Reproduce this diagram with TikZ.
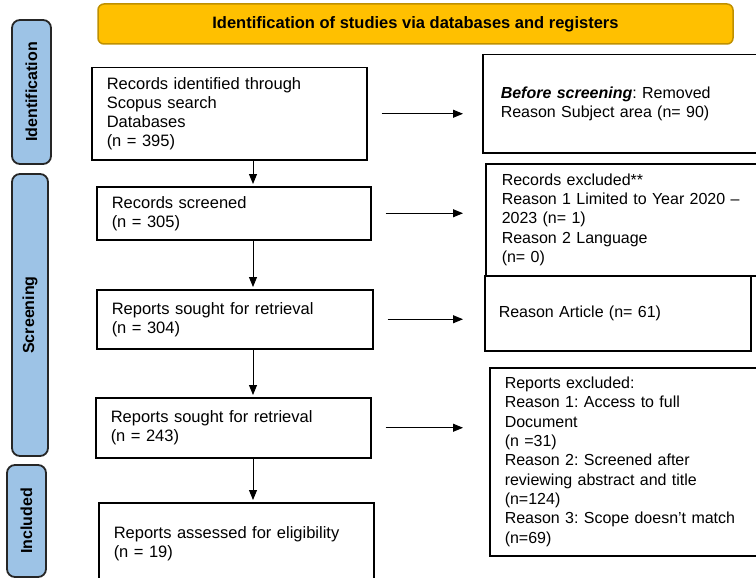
\documentclass[tikz,border=0pt]{standalone}
\usepackage{fontspec}
\setmainfont{Liberation Sans}
\usetikzlibrary{arrows.meta}
\definecolor{barblue}{HTML}{9DC3E6}
\definecolor{titlegold}{HTML}{FFC000}
\definecolor{titleedge}{HTML}{BF9000}
\frenchspacing
\begin{document}
\begin{tikzpicture}[x=1pt,y=-1pt]
			\tikzstyle{box}=[draw, line width=1.5pt, anchor=north west, align=left, inner xsep=15pt, inner ysep=0pt, font=\fontsize{16.5}{19}\selectfont]
			\tikzstyle{rbox}=[box, font=\fontsize{16}{19.3}\selectfont]
			\tikzstyle{bar}=[draw=black!85, line width=1.8pt, fill=barblue, rounded corners=8pt, rotate=90, inner sep=0pt, font=\fontsize{16}{19}\selectfont\bfseries]
			\tikzstyle{arr}=[-{Triangle[length=10pt,width=8pt]}, line width=1pt]
			\useasboundingbox (0,0) rectangle (756,578);
			
			\node[draw=titleedge, line width=1.5pt, fill=titlegold, rounded corners=6pt, minimum width=635pt, minimum height=40pt, font=\fontsize{16.5}{19}\selectfont\bfseries] (title) at (415.5,24) {Identification of studies via databases and registers};
			
			\node[bar, minimum width=144pt, minimum height=39pt] (idbar) at (31.5,92) {Identification};
			\node[bar, minimum width=282pt, minimum height=36pt] (scbar) at (30,315) {Screening};
			\node[bar, minimum width=112pt, minimum height=39pt] (inbar) at (26.5,521) {Included};
			
			\node[box, text width=245pt, minimum height=92pt] (ident) at (91,67) {Records identified through\\Scopus search\\Databases\\(n = 395)};
			\node[box, text width=244pt, minimum height=53pt] (screen) at (96,186) {Records screened\\(n = 305)};
			\node[box, text width=246pt, minimum height=59pt] (sought) at (96,289) {Reports sought for retrieval\\(n = 304)};
			\node[box, text width=245pt, minimum height=60pt] (retr) at (95,397) {Reports sought for retrieval\\(n = 243)};
			\node[box, text width=245pt, minimum height=82pt] (assess) at (98,502) {Reports assessed for eligibility\\(n = 19)};
			
			\node[rbox, text width=270pt, minimum height=98pt, inner xsep=18pt] (before) at (482,54) {\textbf{\textit{Before screening}}: Removed\\Reason Subject area (n= 90)};
			\node[rbox, text width=270pt, minimum height=112pt, inner xsep=16pt] (excl) at (485,163) {Records excluded**\\Reason 1 Limited to Year 2020 –\\2023 (n= 1)\\Reason 2 Language\\(n= 0)};
			\node[rbox, text width=238pt, minimum height=75pt, inner xsep=14pt] (article) at (484,275) {Reason Article (n= 61)};
			\node[rbox, text width=270pt, minimum height=188pt] (repexcl) at (489,367) {Reports excluded:\\Reason 1: Access to full\\Document\\(n =31)\\Reason 2: Screened after\\reviewing abstract and title\\(n=124)\\Reason 3: Scope doesn’t match\\(n=69)};
			
			\coordinate (vx) at (253,0);
			\coordinate (hx) at (463,0);
			\foreach \a/\b in {ident/screen, screen/sought, sought/retr, retr/assess}
				\draw[arr, shorten >=2pt] (\a.south -| vx) -- (\b.north -| vx);
			\foreach \a in {ident, screen, sought, retr}
				\draw[arr] ([xshift=14pt]\a.east) -- (\a.east -| hx);
\end{tikzpicture}
\end{document}
